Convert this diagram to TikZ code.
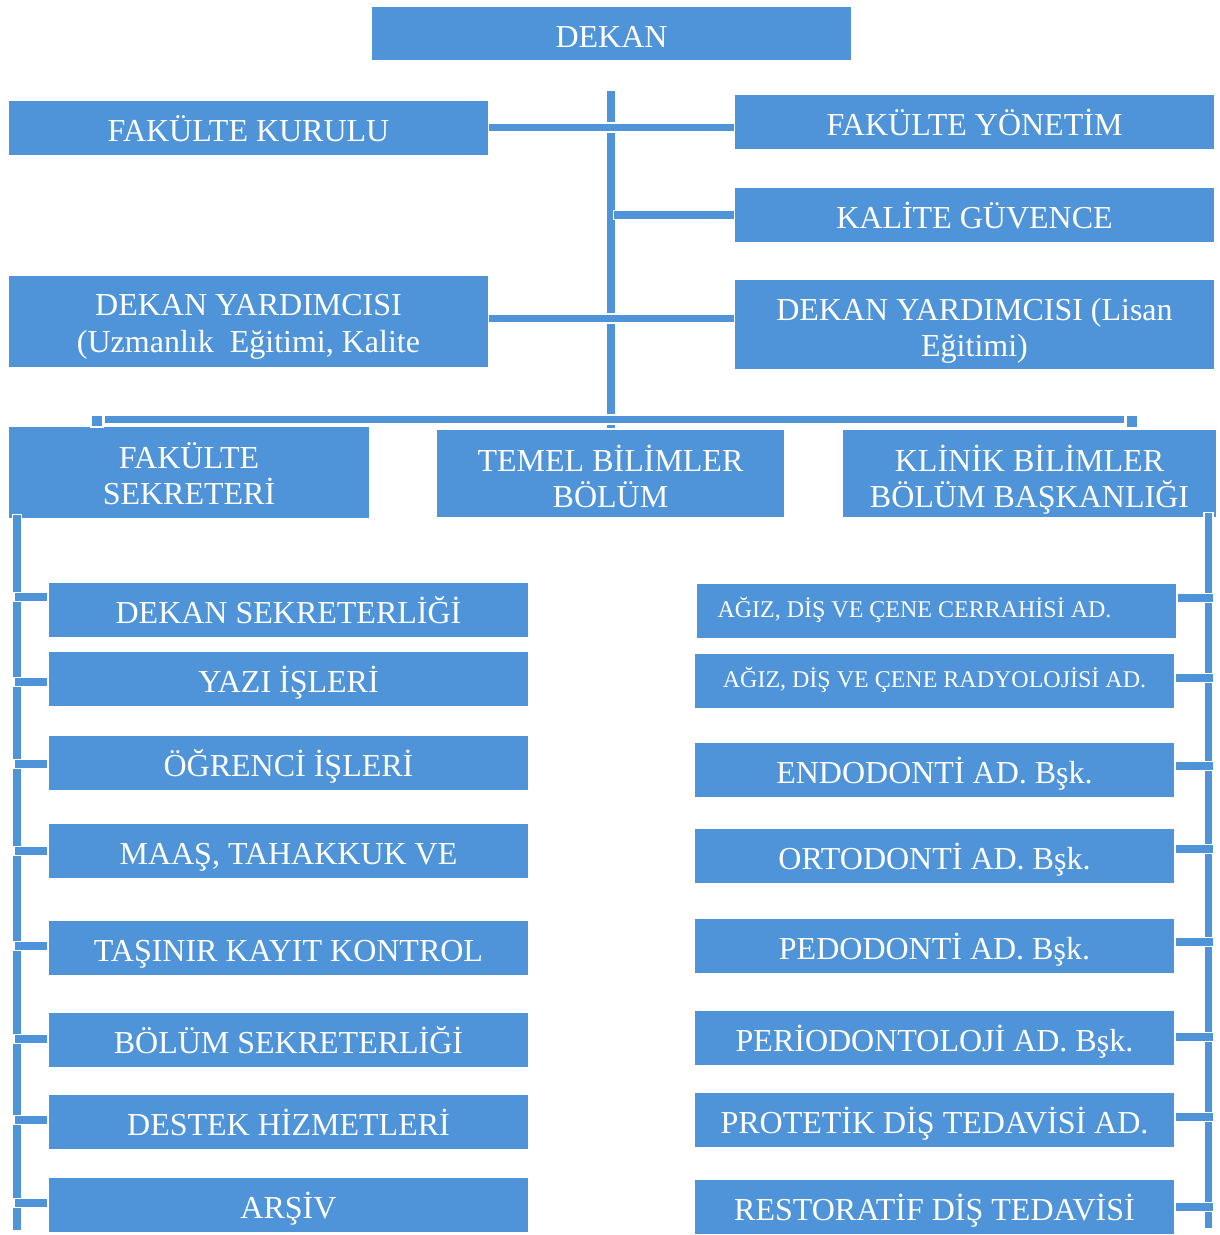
\documentclass[tikz,border=0pt]{standalone}
\usepackage{fontspec}
\setmainfont{Liberation Serif}
\usetikzlibrary{calc}
\definecolor{boxblue}{RGB}{79,148,217}
\newcommand{\twolines}[2]{\vbox{\halign{\hfil##\hfil\cr #1\cr #2\cr}}}
\begin{document}
\begin{tikzpicture}[x=1pt,y=-1pt,
  box/.style={fill=boxblue, draw=none, text=white, minimum width=479pt, minimum height=54pt, inner sep=0pt,
    font=\fontsize{32}{36.5}\selectfont, text height=27.2pt, text depth=0pt},
  smallbox/.style={box, font=\fontsize{24}{28}\selectfont, text height=13.9pt},
  mbox/.style={fill=boxblue, draw=none, text=white, inner sep=0pt, text depth=0pt,
    font=\fontsize{32}{36.5}\selectfont},
  conn/.style={draw=white, line width=1.5pt, double=boxblue, double distance=7.5pt, line cap=rect},
  sq/.style={fill=boxblue, draw=white, line width=1.5pt, minimum size=12pt, inner sep=0pt}]
\useasboundingbox (0,0) rectangle (1219,1235);

% top boxes
\node[box, minimum height=53pt] (dekan) at (611.5,33.5) {DEKAN};
\node[box] (fk) at (248.5,128) {FAKÜLTE KURULU};
\node[box] (fy) at (974.5,122) {FAKÜLTE YÖNETİM};
\node[box] (kg) at (974.5,215) {KALİTE GÜVENCE};
\node[mbox, minimum width=479pt, minimum height=91pt, text height=61.7pt] (dyl) at (248.5,321.5)
  {\twolines{DEKAN YARDIMCISI}{(Uzmanlık\ \ Eğitimi, Kalite}};
\node[mbox, minimum width=479pt, minimum height=89pt, text height=64.7pt] (dyr) at (974.5,324.5)
  {\twolines{DEKAN YARDIMCISI (Lisan}{Eğitimi)}};
\node[mbox, minimum width=360pt, minimum height=91pt, text height=64.7pt] (fs) at (189,472.5)
  {\twolines{FAKÜLTE}{SEKRETERİ}};
\node[mbox, minimum width=347pt, minimum height=87pt, text height=68.7pt] (tb) at (610.5,473.5)
  {\twolines{TEMEL BİLİMLER}{BÖLÜM}};
\node[mbox, minimum width=373pt, minimum height=87pt, text height=68.7pt] (kb) at (1029.5,473.5)
  {\twolines{KLİNİK BİLİMLER}{BÖLÜM BAŞKANLIĞI}};

% left column
\node[box] (l1) at (288.5,610) {DEKAN SEKRETERLİĞİ};
\node[box] (l2) at (288.5,679) {YAZI İŞLERİ};
\node[box] (l3) at (288.5,763) {ÖĞRENCİ İŞLERİ};
\node[box] (l4) at (288.5,851) {MAAŞ, TAHAKKUK VE};
\node[box] (l5) at (288.5,948) {TAŞINIR KAYIT KONTROL};
\node[box] (l6) at (288.5,1040) {BÖLÜM SEKRETERLİĞİ};
\node[box] (l7) at (288.5,1122) {DESTEK HİZMETLERİ};
\node[box] (l8) at (288.5,1205) {ARŞİV};

% right column
\node[smallbox] (r1) at (936.5,611) {\hspace*{-44pt}AĞIZ, DİŞ VE ÇENE CERRAHİSİ AD.};
\node[smallbox] (r2) at (934.5,680.5) {AĞIZ, DİŞ VE ÇENE RADYOLOJİSİ AD.};
\node[box] (r3) at (934.5,770) {ENDODONTİ AD. Bşk.};
\node[box] (r4) at (934.5,856) {ORTODONTİ AD. Bşk.};
\node[box] (r5) at (934.5,946) {PEDODONTİ AD. Bşk.};
\node[box] (r6) at (934.5,1038) {PERİODONTOLOJİ AD. Bşk.};
\node[box] (r7) at (934.5,1120) {PROTETİK DİŞ TEDAVİSİ AD.};
\node[box] (r8) at (934.5,1207) {RESTORATİF DİŞ TEDAVİSİ};

% coordinates of the trunk lines
\coordinate (vtop) at (611,94.75);
\coordinate (vbot) at (611,424);
\coordinate (lvtop) at (17,518.75);
\coordinate (lvbot) at (17,1226.25);
\coordinate (rvtop) at (1208.5,516.75);
\coordinate (rvbot) at (1208.5,1224.25);

% central trunk
\draw[conn] (vtop) -- (vbot);
\draw[conn] ($(fk.east)+(4.75,-0.5)$) -- ($(fk.east -| fy.west)+(-4.75,-0.5)$);
\draw[conn] ($(kg.west)+(-4.75,0)$) -- ($(kg.west -| vtop)+(6.75,0)$);
\draw[conn] ($(dyl.east)+(4.75,-2.8)$) -- ($(dyl.east -| dyr.west)+(-4.75,-2.8)$);

% horizontal bar with end squares
\node[sq] (sqL) at (97,421) {};
\node[sq] (sqR) at (1132,421.5) {};
\draw[conn] ($(sqL.east)+(5,-1.3)$) -- ($(sqR.west)+(-5,-1.8)$);

% side trunks
\draw[conn] (lvtop) -- (lvbot);
\draw[conn] (rvtop) -- (rvbot);

% stubs
\foreach \n/\d in {l1/-13,l2/3,l3/1,l4/0,l5/-2,l6/-1,l7/-2,l8/-2}
  \draw[conn] ($(\n.west)+(-5.5,\d)$) -- ($(\n.west -| lvtop)+(1.5,\d)$);
\foreach \n/\d in {r1/-13,r2/-2.5,r3/-4,r4/-7,r5/-4,r6/-1,r7/-3,r8/0}
  \draw[conn] ($(\n.east)+(5.5,\d)$) -- ($(\n.east -| rvtop)+(0.75,\d)$);
\end{tikzpicture}
\end{document}
